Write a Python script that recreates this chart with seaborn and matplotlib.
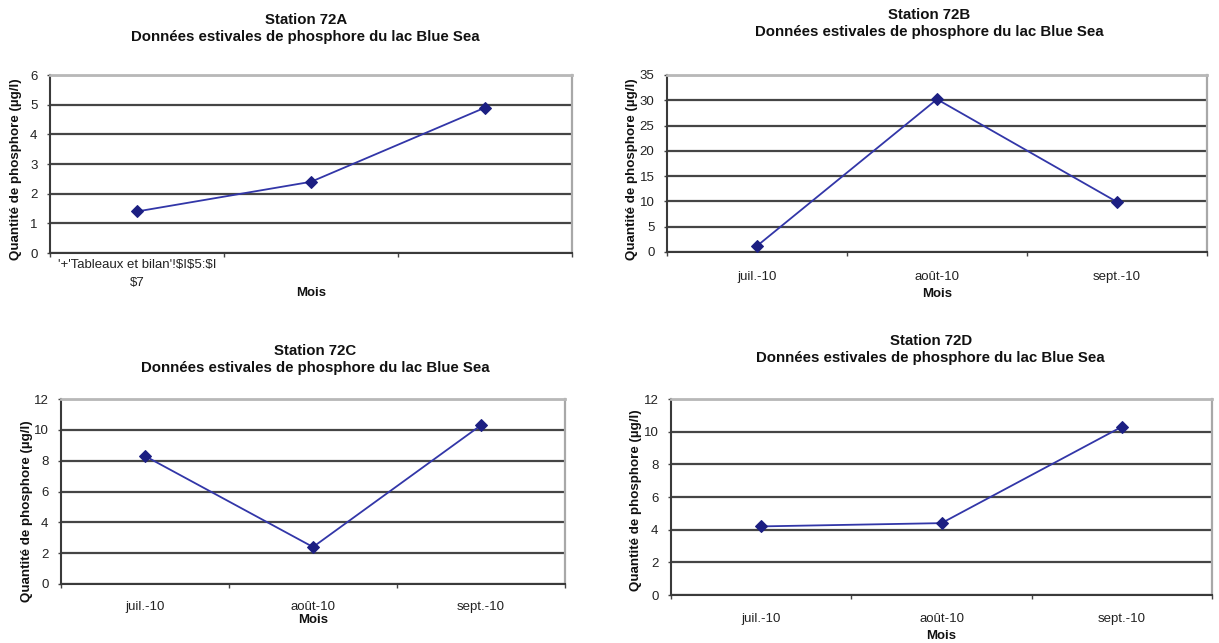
import matplotlib
matplotlib.use("Agg")
import matplotlib.pyplot as plt
import seaborn as sns
import numpy as np
import pandas as pd

# ---- data ----
months = ["juil.-10", "août-10", "sept.-10"]
labels_72A = ["'+'Tableaux et bilan'!$I$5:$I\n$7", "", ""]
values_72A = [1.4, 2.4, 4.9]
values_72B = [1.2, 30.2, 9.9]
values_72C = [8.3, 2.4, 10.3]
values_72D = [4.2, 4.4, 10.3]
stations = ["Station 72A", "Station 72B", "Station 72C", "Station 72D"]
subtitle = "Données estivales de phosphore du lac Blue Sea"
ylabel = "Quantité de phosphore (µg/l)"
xlabel = "Mois"

sns.set_theme(style="white")
plt.rcParams['font.family'] = ['Liberation Sans', 'DejaVu Sans']

W, H = 1219, 643
fig = plt.figure(figsize=(W / 100, H / 100), dpi=100)
fig.patch.set_facecolor("white")


def px_axes(left, right, top, bottom):
    return [left / W, (H - bottom) / H, (right - left) / W, (bottom - top) / H]


panels = [
    dict(name=stations[0], vals=values_72A, ticklabels=labels_72A, box=(50, 572, 75, 253),
         ymax=6, ystep=1, tpad=24.5, tx=0.49, ylc=(-0.054, 0.47), xlc=-0.19, xpad=4.5),
    dict(name=stations[1], vals=values_72B, ticklabels=months, box=(667, 1207, 75, 252),
         ymax=35, ystep=5, tpad=28, tx=0.485, ylc=(-0.054, 0.47), xlc=-0.205, xpad=14),
    dict(name=stations[2], vals=values_72C, ticklabels=months, box=(61, 565, 399, 584),
         ymax=12, ystep=2, tpad=19.5, tx=0.505, ylc=(-0.056, 0.395), xlc=-0.16, xpad=12),
    dict(name=stations[3], vals=values_72D, ticklabels=months, box=(671, 1212, 399, 595),
         ymax=12, ystep=2, tpad=26.5, tx=0.48, ylc=(-0.054, 0.485), xlc=-0.18, xpad=13),
]

line_color = "#3236A8"
marker_color = "#1C1F82"

for p in panels:
    ax = fig.add_axes(px_axes(*p["box"]))
    df = pd.DataFrame({"Mois": months, "val": p["vals"]})
    sns.lineplot(data=df, x="Mois", y="val", ax=ax, sort=False, color=line_color,
                 linewidth=1.3, marker="D", markersize=6,
                 markerfacecolor=marker_color, markeredgecolor=marker_color, zorder=5)
    ax.set_xlim(-0.5, 2.5)
    ax.set_ylim(0, p["ymax"])
    ax.set_yticks(np.arange(0, p["ymax"] + 0.01, p["ystep"]))
    ax.set_xticks([0, 1, 2])
    ax.set_xticklabels(p["ticklabels"], fontsize=9.5, color="#222222", parse_math=False,
                       linespacing=1.6)
    ax.set_xticks([-0.5, 0.5, 1.5, 2.5], minor=True)
    ax.tick_params(axis="x", which="major", length=0, pad=p["xpad"])
    ax.tick_params(axis="x", which="minor", length=3, width=1, color="#444444",
                   direction="out", bottom=True)
    ax.tick_params(axis="y", length=2.5, width=1, color="#444444", direction="out",
                   labelsize=9.5, labelcolor="#222222", pad=6.5, left=True)
    ax.set_axisbelow(True)
    ax.yaxis.grid(True, color="#454545", linewidth=1.6)
    ax.xaxis.grid(False)
    for s in ["left", "bottom"]:
        ax.spines[s].set_color("#3a3a3a")
        ax.spines[s].set_linewidth(1.5)
    ax.spines["top"].set_color("#b8b8b8")
    ax.spines["top"].set_linewidth(2.0)
    ax.spines["right"].set_color("#a8a8a8")
    ax.spines["right"].set_linewidth(1.6)
    ax.set_ylabel(ylabel, fontsize=9.6, fontweight="bold", color="#111111")
    ax.yaxis.set_label_coords(*p["ylc"])
    ax.set_xlabel(xlabel, fontsize=9.5, fontweight="bold", color="#111111")
    ax.xaxis.set_label_coords(0.5, p["xlc"])
    ax.set_title(p["name"] + "\n" + subtitle, fontsize=10.8, fontweight="bold",
                 color="#111111", pad=p["tpad"], x=p["tx"], linespacing=1.25)

fig.savefig("out.png", dpi=100, facecolor="white")
